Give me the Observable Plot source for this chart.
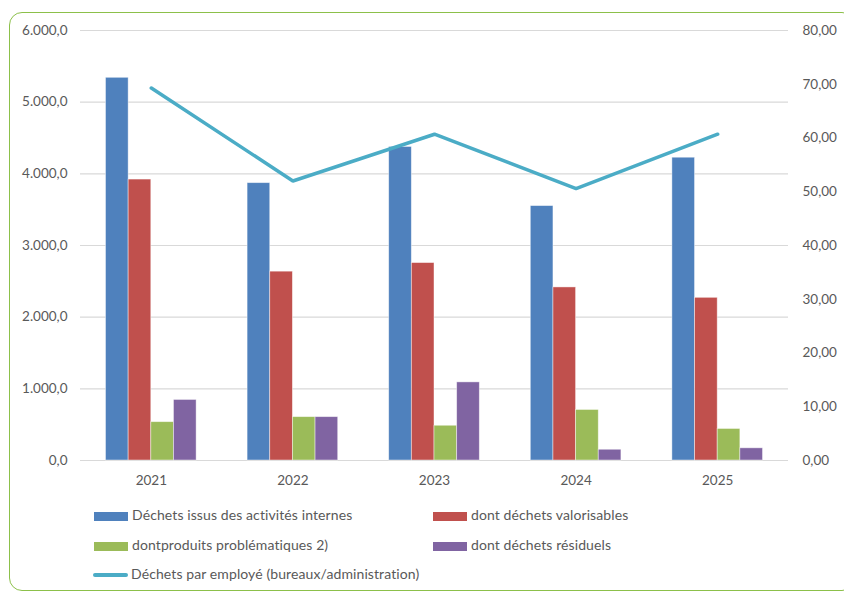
<!DOCTYPE html>
<html><head><meta charset="utf-8">
<script src="https://cdn.jsdelivr.net/npm/d3@7"></script>
<script src="https://cdn.jsdelivr.net/npm/@observablehq/plot@0.6"></script>
<style>
html,body{margin:0;padding:0;background:#fff;}
body{width:844px;height:592px;position:relative;overflow:hidden;font-family:Lato,"Open Sans",sans-serif;color:#595959;}
#frame{position:absolute;left:9px;top:12px;width:846px;height:579px;border:1.5px solid #8cc04a;border-radius:13px;box-sizing:border-box;}
#chart{position:absolute;left:0;top:0;}
.lg{position:absolute;font-size:14px;line-height:16px;white-space:nowrap;letter-spacing:0.1px;}
.sw{position:absolute;width:34px;height:9px;}
.ln{position:absolute;width:35px;height:4px;border-radius:2px;}
</style></head>
<body>
<div id="frame"></div>
<div id="chart"></div>
<div id="legend"></div>
<script>
const years = ["2021", "2022", "2023", "2024", "2025"];
const seriesNames = [
  "Déchets issus des activités internes",
  "dont déchets valorisables",
  "dontproduits problématiques 2)",
  "dont déchets résiduels"
];
const lineName = "Déchets par employé (bureaux/administration)";
const interne = [5340, 3870, 4375, 3550, 4225];
const valorisables = [3920, 2635, 2755, 2415, 2270];
const problematiques = [535, 605, 485, 705, 440];
const residuels = [845, 605, 1090, 150, 170];
const parEmploye = [69.3, 52.0, 60.7, 50.6, 60.7];
const leftTicks = [0, 1000, 2000, 3000, 4000, 5000, 6000];
const rightTicks = [0, 10, 20, 30, 40, 50, 60, 70, 80];
const colors = ["#4f81bd", "#c0504d", "#9bbb59", "#8064a2"];
const lineColor = "#4bacc6";

const seriesValues = [interne, valorisables, problematiques, residuels];
const bars = [];
seriesValues.forEach((vals, s) => vals.forEach((v, i) => bars.push({i, s, name: seriesNames[s], value: v})));
const ratio = 6000 / 80;
const linePts = parEmploye.map((v, i) => ({i, v}));

const loc = d3.formatLocale({decimal: ",", thousands: ".", grouping: [3], currency: ["", ""]});
const fmtL = loc.format(",.1f");
const fmtR = loc.format(",.2f");

const bw = 0.16;
const chart = Plot.plot({
  width: 844, height: 495,
  marginTop: 30, marginBottom: 35, marginLeft: 80, marginRight: 56,
  style: {fontFamily: "Lato, 'Open Sans', sans-serif", fontSize: "13.5px", color: "#595959", background: "transparent"},
  x: {type: "linear", domain: [-0.5, 4.5], axis: null},
  y: {domain: [0, 6000], axis: null},
  color: {domain: seriesNames, range: colors},
  marks: [
    Plot.ruleY(leftTicks, {stroke: "#d9d9d9", strokeWidth: 1.2}),
    Plot.rectY(bars, {x1: d => d.i - 2 * bw + d.s * bw, x2: d => d.i - 2 * bw + (d.s + 1) * bw, y1: 0, y2: "value", fill: "name", stroke: "#ffffff", strokeOpacity: 0.55, strokeWidth: 0.8}),
    Plot.line(linePts, {x: "i", y: d => d.v * ratio, stroke: lineColor, strokeWidth: 3.5, strokeLinejoin: "miter"}),
    Plot.axisY(leftTicks, {anchor: "left", tickSize: 0, tickPadding: 13, tickFormat: fmtL, label: null, fill: "#595959"}),
    Plot.axisY(rightTicks.map(t => t * ratio), {anchor: "right", tickSize: 0, tickPadding: 14, tickFormat: d => fmtR(d / ratio), label: null, fill: "#595959"}),
    Plot.axisX(d3.range(years.length), {tickSize: 0, tickPadding: 15, tickFormat: i => years[i], label: null, fill: "#595959"})
  ]
});
document.getElementById("chart").appendChild(chart);

const lg = document.getElementById("legend");
const items = [
  {type: "bar", color: colors[0], text: seriesNames[0], x: 94, y: 516},
  {type: "bar", color: colors[1], text: seriesNames[1], x: 433, y: 516},
  {type: "bar", color: colors[2], text: seriesNames[2], x: 94, y: 546},
  {type: "bar", color: colors[3], text: seriesNames[3], x: 433, y: 546},
  {type: "line", color: lineColor, text: lineName, x: 93, y: 575}
];
items.forEach(it => {
  const sw = document.createElement("div");
  if (it.type === "bar") {
    sw.className = "sw"; sw.style.left = it.x + "px"; sw.style.top = (it.y - 4.5) + "px";
  } else {
    sw.className = "ln"; sw.style.left = it.x + "px"; sw.style.top = (it.y - 2) + "px";
  }
  sw.style.background = it.color;
  lg.appendChild(sw);
  const t = document.createElement("div");
  t.className = "lg"; t.textContent = it.text;
  t.style.left = (it.x + 38) + "px"; t.style.top = (it.y - 9) + "px";
  lg.appendChild(t);
});
</script>
</body></html>
